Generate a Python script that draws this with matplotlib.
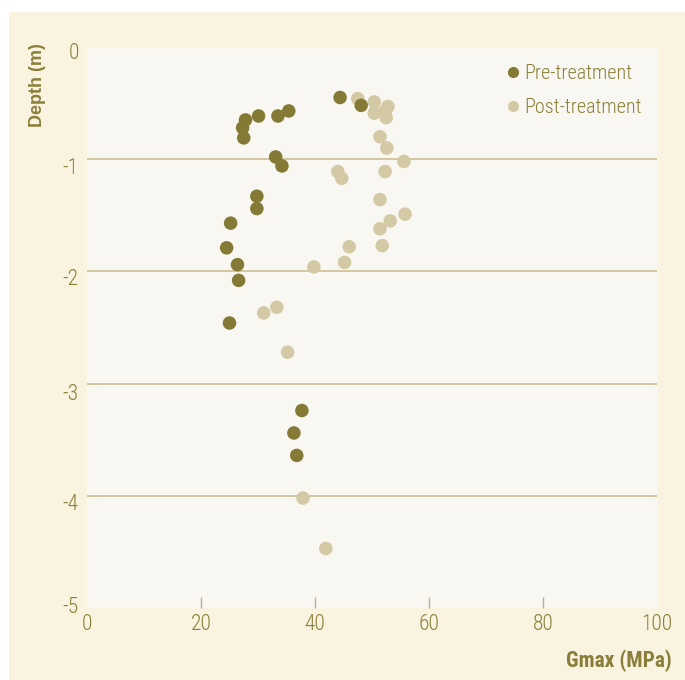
import matplotlib
matplotlib.use("Agg")
import os
import matplotlib.pyplot as plt
import matplotlib.transforms as mtransforms
from matplotlib.patches import Rectangle
from matplotlib.lines import Line2D
from matplotlib import font_manager as fm

pre_gmax = [44.4, 48.1, 27.8, 27.3, 27.5, 30.1, 33.5, 35.4, 33.1, 34.2,
            29.8, 29.8, 25.2, 24.5, 26.4, 26.6, 25.0, 37.7, 36.3, 36.8]
pre_depth = [-0.45, -0.52, -0.65, -0.72, -0.81, -0.615, -0.615, -0.57, -0.98, -1.06,
             -1.33, -1.44, -1.57, -1.79, -1.94, -2.08, -2.46, -3.24, -3.44, -3.64]

post_gmax = [47.5, 50.4, 50.4, 52.3, 52.8, 52.5, 51.4, 52.6, 55.6, 44.0,
             44.7, 52.3, 51.4, 55.8, 53.2, 51.4, 51.8, 46.0, 45.2, 39.8,
             33.3, 31.0, 35.2, 37.9, 41.9]
post_depth = [-0.46, -0.49, -0.59, -0.57, -0.53, -0.63, -0.80, -0.90, -1.02, -1.11,
              -1.17, -1.11, -1.36, -1.49, -1.55, -1.62, -1.77, -1.78, -1.92, -1.96,
              -2.32, -2.37, -2.72, -4.02, -4.47]

x_ticks = [0, 20, 40, 60, 80, 100]
y_ticks = [0, -1, -2, -3, -4, -5]

W, H = 685, 680
CREAM = "#FAF3DF"
PLOT_BG = "#F8F7F2"
GRID = "#D2C7A0"
TICK = "#B8B08A"
TEXT = "#8A7F3A"
PRE = "#857A35"
POST = "#D3C9A5"

fonts = fm.findSystemFonts()

def pick(kind):
    best = None
    for f in fonts:
        n = os.path.basename(f).lower()
        if not ("narrow" in n or "condensed" in n):
            continue
        if any(b in n for b in ("oblique", "italic", "thin", "black", "extra", "medium", "semi")):
            continue
        has_bold = "bold" in n
        has_light = "light" in n
        if kind == "bold" and not has_bold:
            continue
        if kind == "light" and (has_bold or not has_light):
            continue
        if kind == "regular" and (has_bold or has_light):
            continue
        score = 2 if "roboto" in n else 0
        if best is None or score > best[0]:
            best = (score, f)
    return best[1] if best else None

paths = {"light": pick("light") or pick("regular"), "regular": pick("regular"), "bold": pick("bold")}

def fp(size, kind="light"):
    path = paths.get(kind)
    if path:
        return fm.FontProperties(fname=path, size=size)
    return fm.FontProperties(family="DejaVu Sans", size=size, stretch="condensed",
                             weight="bold" if kind == "bold" else "normal")

fig = plt.figure(figsize=(W / 100, H / 100), dpi=100)
fig.patch.set_facecolor("white")
fig.add_artist(Rectangle((9 / W, 0), 1 - 9 / W, 1 - 12 / H, transform=fig.transFigure,
                         facecolor=CREAM, edgecolor="none", zorder=-10))

left, right, top, bottom = 87, 657, 47, 608
ax = fig.add_axes([left / W, 1 - bottom / H, (right - left) / W, (bottom - top) / H])
ax.set_facecolor(PLOT_BG)
ax.set_xlim(0, 100)
ax.set_ylim(-5, 0)

for d in [-1, -2, -3, -4]:
    ax.axhline(d, color=GRID, lw=1.4, zorder=1)

ax.scatter(post_gmax, post_depth, s=95, color=POST, edgecolors="none", zorder=3)
ax.scatter(pre_gmax, pre_depth, s=95, color=PRE, edgecolors="none", zorder=3)

for s in ax.spines.values():
    s.set_visible(False)

ax.set_xticks(x_ticks)
ax.set_yticks(y_ticks)
ax.set_xticklabels([str(v) for v in x_ticks])
ax.set_yticklabels([str(v) for v in y_ticks])
ax.tick_params(axis="x", direction="in", length=8, width=1.0, color=TICK,
               labelcolor=TEXT, pad=4)
ax.tick_params(axis="y", length=0, labelcolor=TEXT, pad=6)
for lab in ax.get_xticklabels() + ax.get_yticklabels():
    lab.set_fontproperties(fp(15.5))
xt = ax.xaxis.get_major_ticks()
xt[0].tick1line.set_visible(False)
xt[-1].tick1line.set_visible(False)

# vertical offsets (pixels, positive = down) of the y tick labels as in the reference
y_off = [4, 7, 6, 8, 6, -3]
for lab, off in zip(ax.get_yticklabels(), y_off):
    lab.set_transform(lab.get_transform() +
                      mtransforms.ScaledTranslation(0, -off / 100, fig.dpi_scale_trans))

fig.text(38 / W, 1 - 85 / H, "Depth (m)", rotation=90, ha="center", va="center",
         color=TEXT, fontsize=13, fontweight="bold", family=["Liberation Sans", "DejaVu Sans"])
fig.text(672 / W, 1 - 661 / H, "Gmax (MPa)", ha="right", va="center",
         color=TEXT, fontproperties=fp(15.5, "bold"))

handles = [Line2D([], [], marker="o", ls="none", color=PRE, markersize=8, markeredgewidth=0),
           Line2D([], [], marker="o", ls="none", color=POST, markersize=8, markeredgewidth=0)]
leg = ax.legend(handles, ["Pre-treatment", "Post-treatment"], loc="upper left",
                bbox_to_anchor=((503 - left) / (right - left), 1 - (64 - top) / (bottom - top)),
                frameon=False, handletextpad=0.05, handlelength=1.0, labelspacing=0.73,
                borderpad=0, borderaxespad=0, prop=fp(14.5), labelcolor=TEXT)

fig.savefig("out.png", dpi=100, facecolor=fig.get_facecolor())
